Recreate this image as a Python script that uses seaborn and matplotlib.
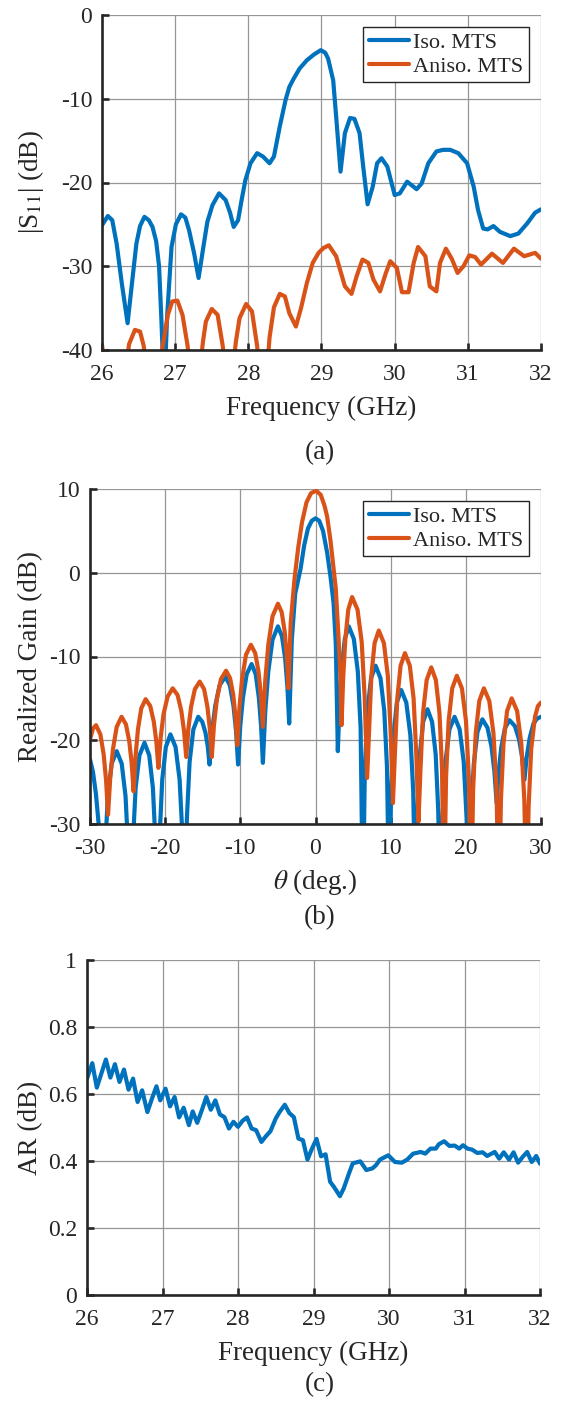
import numpy as np
import pandas as pd
import matplotlib
matplotlib.use("Agg")
import matplotlib.pyplot as plt
import seaborn as sns

# ---------------- data ----------------
# (a) reflection coefficient versus frequency
freq_iso = [26.00, 26.08, 26.14, 26.20, 26.27, 26.35, 26.41, 26.47, 26.52, 26.58,
            26.64, 26.69, 26.74, 26.78, 26.81, 26.85, 26.89, 26.95, 27.01, 27.08,
            27.14, 27.19, 27.26, 27.32, 27.38, 27.44, 27.51, 27.60, 27.69, 27.75,
            27.80, 27.86, 27.91, 27.96, 28.03, 28.12, 28.20, 28.29, 28.35, 28.43,
            28.51, 28.56, 28.62, 28.70, 28.80, 28.90, 28.99, 29.05, 29.09, 29.16,
            29.20, 29.26, 29.32, 29.39, 29.45, 29.52, 29.57, 29.63, 29.70, 29.76,
            29.82, 29.90, 30.00, 30.07, 30.17, 30.30, 30.37, 30.46, 30.57, 30.66,
            30.76, 30.87, 30.99, 31.08, 31.14, 31.21, 31.27, 31.35, 31.44, 31.58,
            31.69, 31.81, 31.92, 32.00]
s11_iso = [-25.1, -24.0, -24.5, -27.3, -32.0, -36.8, -32.0, -27.3, -25.2, -24.1,
           -24.5, -25.3, -27.0, -30.0, -36.0, -45.0, -36.0, -27.7, -25.0, -23.8,
           -24.2, -25.7, -28.5, -31.4, -28.0, -24.7, -22.7, -21.3, -22.1, -23.6,
           -25.3, -24.5, -22.0, -19.7, -17.7, -16.5, -16.9, -17.7, -16.9, -13.3,
           -10.1, -8.6, -7.6, -6.4, -5.4, -4.7, -4.2, -4.5, -5.2, -7.8,
           -12.1, -18.7, -14.1, -12.3, -12.4, -14.1, -18.1, -22.6, -20.5, -17.7,
           -17.1, -18.1, -21.5, -21.3, -19.9, -20.8, -20.1, -17.7, -16.3, -16.1,
           -16.1, -16.5, -17.7, -20.5, -23.3, -25.5, -25.6, -25.2, -25.9, -26.4,
           -26.1, -24.9, -23.6, -23.2]

freq_aniso = [26.00, 26.04, 26.10, 26.25, 26.33, 26.37, 26.45, 26.52, 26.57, 26.62,
              26.72, 26.79, 26.83, 26.90, 26.96, 27.03, 27.10, 27.17, 27.22, 27.33,
              27.38, 27.42, 27.50, 27.58, 27.65, 27.70, 27.78, 27.83, 27.88, 27.97,
              28.05, 28.12, 28.17, 28.25, 28.29, 28.35, 28.43, 28.50, 28.56, 28.65,
              28.72, 28.80, 28.88, 28.96, 29.03, 29.10, 29.20, 29.32, 29.41, 29.48,
              29.56, 29.64, 29.71, 29.80, 29.88, 29.94, 30.03, 30.10, 30.19, 30.26,
              30.32, 30.42, 30.48, 30.57, 30.62, 30.70, 30.78, 30.86, 30.94, 31.02,
              31.10, 31.18, 31.33, 31.48, 31.63, 31.77, 31.92, 32.00]
s11_aniso = [-39.4, -42.0, -48.0, -48.0, -42.0, -39.3, -37.6, -37.8, -39.5, -44.0,
             -48.0, -43.0, -39.5, -35.8, -34.2, -34.1, -35.8, -39.5, -44.0, -43.0,
             -39.0, -36.6, -35.1, -35.8, -39.5, -44.0, -43.0, -39.0, -36.2, -34.5,
             -35.4, -39.5, -44.0, -43.0, -38.5, -34.9, -33.3, -33.6, -35.6, -37.2,
             -35.0, -32.0, -29.6, -28.4, -27.8, -27.5, -28.8, -32.4, -33.3, -31.2,
             -29.2, -29.6, -31.6, -33.0, -30.8, -29.4, -30.2, -33.1, -33.1, -29.6,
             -27.7, -28.8, -32.4, -33.0, -29.6, -27.9, -29.1, -30.8, -30.0, -28.7,
             -28.9, -29.8, -28.5, -29.6, -27.9, -28.8, -28.4, -29.1]

# (b) realized gain patterns
theta_iso = [-30.0, -29.6, -29.2, -28.8, -28.3,
             -28.0, -27.63, -27.12, -26.45, -25.78, -25.27, -24.9, -24.6,
             -24.3, -23.93, -23.42, -22.75, -22.12, -21.63, -21.28, -21.0,
             -20.73, -20.39, -19.91, -19.3, -18.62, -18.08, -17.7, -17.4,
             -17.11, -16.75, -16.25, -15.6, -15.06, -14.64, -14.34, -14.1,
             -13.76, -13.34, -12.76, -12.0, -11.39, -10.91, -10.57, -10.3,
             -10.01, -9.65, -9.15, -8.5, -7.96, -7.54, -7.24, -7.0,
             -6.68, -6.28, -5.72, -5.0, -4.46, -4.04, -3.74, -3.5,
             -3.15, -2.7, -2.0, -1.5, -1.0, -0.5, 0.0, 0.5, 1.0, 1.55, 2.0, 2.4, 2.7, 2.97,
             3.2, 3.5, 3.9, 4.43, 5.1, 5.63, 6.0, 6.3,
             6.57, 6.91, 7.39, 8.0, 8.65, 9.15, 9.51, 9.8,
             10.06, 10.38, 10.82, 11.4, 12.08, 12.62, 13.0, 13.3,
             13.56, 13.88, 14.32, 14.9, 15.51, 15.99, 16.33, 16.6,
             16.9, 17.28, 17.82, 18.5, 19.18, 19.72, 20.1, 20.4,
             20.69, 21.05, 21.55, 22.2, 22.88, 23.42, 23.8, 24.1,
             24.37, 24.71, 25.19, 25.8, 26.52, 27.08, 27.48, 27.8,
             28.1, 28.5, 29.0, 29.5, 30.0]
gain_iso = [-22.3, -23.8, -26.5, -30.5, -40.0,
            -33.4, -26.7, -22.8, -21.3, -22.8, -26.7, -33.4, -40.0,
            -32.4, -25.7, -21.8, -20.3, -21.8, -25.7, -32.4, -40.0,
            -31.4, -24.7, -20.8, -19.3, -20.8, -24.7, -31.4, -40.0,
            -29.3, -22.6, -18.7, -17.2, -17.8, -19.1, -20.7, -22.9,
            -18.9, -15.9, -13.45, -12.4, -13.45, -15.9, -18.9, -22.9,
            -18.3, -14.9, -12.1, -10.9, -12.1, -14.9, -18.3, -22.7,
            -16.5, -11.8, -8.0, -6.4, -7.6, -10.2, -13.6, -18.0,
            -8.0, -2.5, 0.4, 3.3, 5.3, 6.2, 6.5, 6.2, 5.0, 2.4, -0.5, -3.6, -8.5, -21.3,
            -15.6, -11.3, -7.9, -6.4, -7.9, -11.8, -18.5, -40.0,
            -23.2, -16.5, -12.6, -11.1, -12.6, -16.5, -23.2, -40.0,
            -26.1, -19.4, -15.5, -14.0, -15.5, -19.4, -26.1, -40.0,
            -28.4, -21.7, -17.8, -16.3, -17.8, -21.7, -28.4, -40.0,
            -29.3, -22.6, -18.7, -17.2, -18.7, -22.6, -29.3, -40.0,
            -29.6, -22.9, -19.0, -17.5, -18.5, -20.8, -23.7, -27.5,
            -23.7, -20.9, -18.6, -17.6, -18.3, -19.9, -22.0, -24.7,
            -22.0, -19.7, -18.0, -17.4, -17.2]

theta_aniso = [-30.0, -29.6, -29.2, -28.62, -28.18, -27.86, -27.6,
               -27.31, -26.95, -26.45, -25.8, -25.22, -24.78, -24.46, -24.2,
               -23.94, -23.62, -23.18, -22.6, -21.99, -21.51, -21.17, -20.9,
               -20.6, -20.22, -19.68, -19.0, -18.35, -17.85, -17.49, -17.2,
               -16.91, -16.55, -16.05, -15.4, -14.82, -14.38, -14.06, -13.8,
               -13.5, -13.12, -12.58, -11.9, -11.36, -10.94, -10.64, -10.4,
               -10.11, -9.75, -9.25, -8.6, -8.02, -7.58, -7.26, -7.0,
               -6.68, -6.28, -5.72, -5.0, -4.5, -4.1, -3.82, -3.6,
               -3.3, -2.8, -2.3, -1.8, -1.2, -0.6, 0.1, 0.7, 1.2, 1.55, 2.0, 2.4, 2.7, 3.05, 3.3, 3.46,
               3.69, 3.97, 4.36, 4.87, 5.59, 6.15, 6.55, 6.87,
               7.12, 7.43, 7.86, 8.42, 9.1, 9.62, 10.0, 10.3,
               10.56, 10.88, 11.32, 11.9, 12.55, 13.05, 13.41, 13.7,
               13.97, 14.31, 14.79, 15.4, 16.01, 16.49, 16.83, 17.1,
               17.37, 17.71, 18.19, 18.8, 19.48, 20.02, 20.4, 20.7,
               20.97, 21.31, 21.79, 22.4, 23.12, 23.68, 24.08, 24.4,
               24.67, 25.01, 25.49, 26.1, 26.82, 27.38, 27.78, 28.1,
               28.35, 28.7, 29.2, 29.6, 30.0]
gain_aniso = [-19.9, -18.6, -18.2, -19.3, -21.7, -24.8, -28.9,
              -24.5, -21.1, -18.4, -17.2, -18.1, -20.1, -22.7, -26.1,
              -21.9, -18.7, -16.2, -15.1, -15.9, -17.8, -20.2, -23.3,
              -19.7, -16.9, -14.8, -13.8, -14.6, -16.5, -18.9, -22.0,
              -18.6, -16.0, -13.9, -13.0, -13.9, -16.0, -18.6, -22.0,
              -18.1, -15.1, -12.7, -11.7, -12.6, -14.6, -17.2, -20.6,
              -16.0, -12.6, -9.8, -8.6, -9.6, -11.8, -14.7, -18.4,
              -12.8, -8.6, -5.2, -3.7, -4.7, -7.0, -10.0, -13.8,
              -6.0, -0.8, 3.0, 6.0, 8.4, 9.5, 9.8, 9.3, 8.0, 6.7, 3.8, 0.5, -1.9, -7.5, -12.0, -18.2,
              -12.4, -7.9, -4.4, -2.9, -4.4, -8.3, -15.0, -24.5,
              -19.0, -12.3, -8.4, -6.9, -8.4, -12.3, -19.0, -27.5,
              -21.7, -15.0, -11.1, -9.6, -11.1, -15.0, -21.7, -29.7,
              -23.4, -16.7, -12.8, -11.3, -12.8, -16.7, -23.4, -40.0,
              -24.4, -17.7, -13.8, -12.3, -13.8, -17.7, -24.4, -40.0,
              -25.9, -19.2, -15.3, -13.8, -15.3, -19.2, -25.9, -40.0,
              -27.1, -20.4, -16.5, -15.0, -16.5, -20.4, -27.1, -40.0,
              -28.0, -21.0, -17.2, -15.9, -15.5]

# (c) axial ratio versus frequency
freq_ar = [26.00, 26.07, 26.13, 26.25, 26.31, 26.37, 26.43, 26.49, 26.55, 26.61,
           26.67, 26.73, 26.80, 26.86, 26.92, 26.97, 27.04, 27.10, 27.16, 27.22,
           27.28, 27.35, 27.40, 27.46, 27.52, 27.58, 27.64, 27.70, 27.76, 27.82,
           27.88, 27.94, 28.00, 28.06, 28.12, 28.18, 28.24, 28.31, 28.37, 28.43,
           28.50, 28.55, 28.62, 28.68, 28.74, 28.80, 28.86, 28.92, 28.98, 29.04,
           29.10, 29.16, 29.22, 29.27, 29.35, 29.40, 29.47, 29.52, 29.62, 29.70,
           29.78, 29.83, 29.88, 29.99, 30.08, 30.17, 30.24, 30.32, 30.42, 30.48,
           30.55, 30.62, 30.66, 30.73, 30.80, 30.87, 30.93, 30.98, 31.04, 31.10,
           31.17, 31.24, 31.30, 31.40, 31.46, 31.52, 31.59, 31.65, 31.71, 31.77,
           31.83, 31.89, 31.95, 32.00]
ar_iso = [0.646, 0.692, 0.619, 0.703, 0.649, 0.689, 0.636, 0.673, 0.613, 0.646,
          0.576, 0.611, 0.546, 0.586, 0.623, 0.581, 0.616, 0.563, 0.591, 0.530,
          0.559, 0.507, 0.548, 0.514, 0.551, 0.591, 0.553, 0.581, 0.539, 0.531,
          0.497, 0.517, 0.502, 0.520, 0.530, 0.497, 0.492, 0.457, 0.474, 0.489,
          0.527, 0.546, 0.568, 0.543, 0.531, 0.467, 0.462, 0.404, 0.437, 0.466,
          0.414, 0.420, 0.338, 0.323, 0.295, 0.318, 0.363, 0.393, 0.399, 0.373,
          0.378, 0.388, 0.404, 0.417, 0.397, 0.395, 0.404, 0.422, 0.427, 0.422,
          0.437, 0.437, 0.450, 0.459, 0.445, 0.446, 0.437, 0.447, 0.437, 0.434,
          0.424, 0.426, 0.415, 0.427, 0.407, 0.426, 0.404, 0.426, 0.395, 0.412,
          0.427, 0.397, 0.415, 0.392]

labels = ["Iso. MTS", "Aniso. MTS"]
freq_ticks = [26, 27, 28, 29, 30, 31, 32]
s11_ticks = [-40, -30, -20, -10, 0]
theta_ticks = [-30, -20, -10, 0, 10, 20, 30]
gain_ticks = [-30, -20, -10, 0, 10]
ar_ticks = [0, 0.2, 0.4, 0.6, 0.8, 1]

# ---------------- style ----------------
sns.set_theme(style="whitegrid")
plt.rcParams.update({
    "font.family": ["Liberation Serif", "DejaVu Serif"],
    "mathtext.fontset": "stix",
    "axes.unicode_minus": False,
    "axes.edgecolor": "#262626",
    "axes.linewidth": 1.9,
    "grid.color": "#969696",
    "grid.linewidth": 0.9,
    "xtick.color": "#262626",
    "ytick.color": "#262626",
    "text.color": "#262626",
    "axes.labelcolor": "#262626",
})

BLUE = "#0072BD"
ORANGE = "#D95319"
FS_TICK = 17
FS_LABEL = 19.5
FS_LEG = 16

W, H = 562, 1420
fig = plt.figure(figsize=(W / 100, H / 100), dpi=100)


def px_axes(left, right, top, bottom):
    return fig.add_axes([left / W, 1 - bottom / H, (right - left) / W, (bottom - top) / H])


ax_a = px_axes(102, 541, 15, 350)
ax_b = px_axes(90, 541, 489, 824)
ax_c = px_axes(87, 540, 960, 1295)


def style_axes(ax, left_px, width_px):
    for side in ("top", "right"):
        ax.spines[side].set_visible(False)
    ax.tick_params(direction="in", length=5, width=1.9, labelsize=FS_TICK,
                   bottom=True, left=True, top=False, right=False)
    ax.tick_params(axis="x", pad=10)
    ax.tick_params(axis="y", pad=7)
    ax.grid(True)
    ax.set_axisbelow(True)
    ax.yaxis.label.set_verticalalignment("center")
    ax.yaxis.set_label_coords((31 - left_px) / width_px, 0.5)


def add_legend(ax):
    ax.legend(loc="upper right", bbox_to_anchor=(0.973, 0.965), borderaxespad=0,
              fontsize=FS_LEG, frameon=True, fancybox=False, edgecolor="#262626",
              framealpha=1, handlelength=1.8, handletextpad=0.2, labelspacing=0.15,
              borderpad=0.25)
    ax.get_legend().get_frame().set_linewidth(1.0)


# ---------------- (a) ----------------
df_a1 = pd.DataFrame({"f": freq_iso, "v": s11_iso})
df_a2 = pd.DataFrame({"f": freq_aniso, "v": s11_aniso})
sns.lineplot(data=df_a1, x="f", y="v", ax=ax_a, color=BLUE, lw=3, label=labels[0],
             sort=False, estimator=None)
sns.lineplot(data=df_a2, x="f", y="v", ax=ax_a, color=ORANGE, lw=3, label=labels[1],
             sort=False, estimator=None)
ax_a.set_xlim(26, 32)
ax_a.set_ylim(-40, 0)
ax_a.set_xticks(freq_ticks)
ax_a.set_yticks(s11_ticks)
ax_a.set_xlabel("Frequency (GHz)", fontsize=FS_LABEL, labelpad=8)
ax_a.set_ylabel(r"|S$_{11}$| (dB)", fontsize=FS_LABEL)
style_axes(ax_a, 102, 439)
add_legend(ax_a)

# ---------------- (b) ----------------
df_b1 = pd.DataFrame({"t": theta_iso, "v": gain_iso})
df_b2 = pd.DataFrame({"t": theta_aniso, "v": gain_aniso})
sns.lineplot(data=df_b1, x="t", y="v", ax=ax_b, color=BLUE, lw=3, label=labels[0],
             sort=False, estimator=None)
sns.lineplot(data=df_b2, x="t", y="v", ax=ax_b, color=ORANGE, lw=3, label=labels[1],
             sort=False, estimator=None)
ax_b.set_xlim(-30, 30)
ax_b.set_ylim(-30, 10)
ax_b.set_xticks(theta_ticks)
ax_b.set_yticks(gain_ticks)
ax_b.set_xlabel(r"$\theta$ (deg.)", fontsize=FS_LABEL, labelpad=6)
ax_b.set_ylabel("Realized Gain (dB)", fontsize=FS_LABEL)
style_axes(ax_b, 90, 451)
add_legend(ax_b)

# ---------------- (c) ----------------
df_c = pd.DataFrame({"f": freq_ar, "v": ar_iso})
sns.lineplot(data=df_c, x="f", y="v", ax=ax_c, color=BLUE, lw=3,
             sort=False, estimator=None)
ax_c.set_xlim(26, 32)
ax_c.set_ylim(0, 1)
ax_c.set_xticks(freq_ticks)
ax_c.set_yticks(ar_ticks)
ax_c.set_yticklabels(["0", "0.2", "0.4", "0.6", "0.8", "1"])
ax_c.set_xlabel("Frequency (GHz)", fontsize=FS_LABEL, labelpad=8)
ax_c.set_ylabel("AR (dB)", fontsize=FS_LABEL)
style_axes(ax_c, 87, 453)

# panel captions
for txt, ypx in (("(a)", 453), ("(b)", 918), ("(c)", 1385)):
    fig.text(320 / W, 1 - ypx / H, txt, ha="center", va="center", fontsize=FS_LABEL)

fig.savefig("out.png", dpi=100)
